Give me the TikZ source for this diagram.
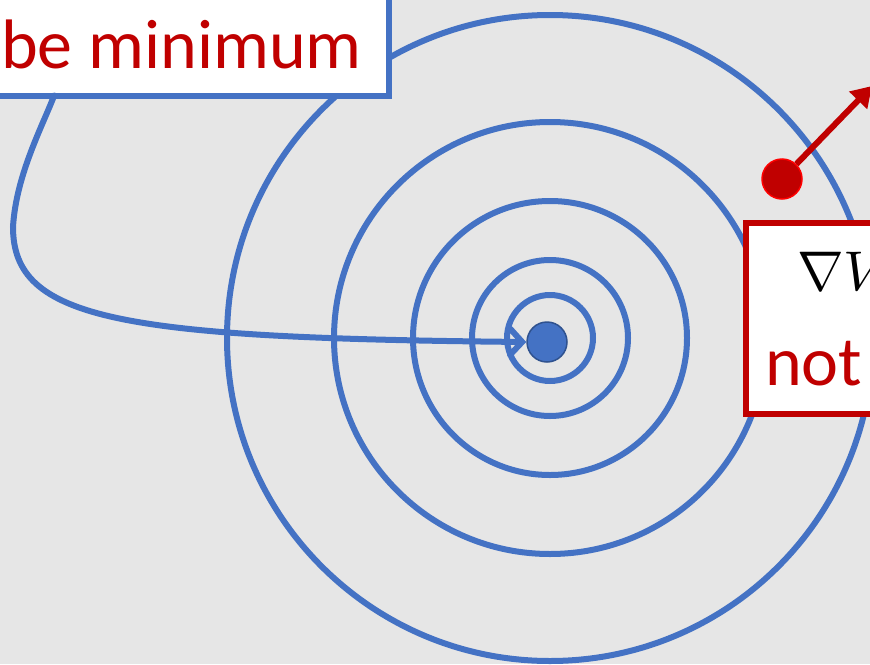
\documentclass[tikz,border=0pt]{standalone}
\usepackage{fontspec}
\usepackage{unicode-math}
\setmainfont{Carlito}
\setmathfont{Latin Modern Math}
\usetikzlibrary{arrows.meta}
\definecolor{ringblue}{HTML}{4472C4}
\definecolor{dotedge}{HTML}{2F528F}
\definecolor{darkred}{HTML}{C00000}
\definecolor{slidegray}{HTML}{E6E6E6}
\tikzset{
    % level sets and the way down
    ring/.style={draw=ringblue, line width=6pt},
    minarr/.style={ringblue, line width=6pt, line cap=round, -{Straight Barb[length=12pt,width=26pt,line cap=round]}},
    gradarr/.style={darkred, line width=6pt, -{Triangle[length=20pt,width=24pt]}},
    bigtxt/.style={font=\fontsize{70}{84}\selectfont},
    % boxes
    wbox/.style={fill=white, line width=6pt, outer sep=0pt},
}
\begin{document}
\begin{tikzpicture}[x=1pt,y=-1pt]
    \useasboundingbox (0,0) rectangle (870,664);
    \clip (0,0) rectangle (870,664);
    \fill[slidegray] (0,0) rectangle (870,664);

    % RINGS
    \foreach \r in {43,78,137,216,323}
        \draw[ring] (550,338) circle[radius=\r pt];

    \node (minbox) at (389,68) [anchor=base east, draw=ringblue, wbox, inner sep=27pt, bigtxt, text=darkred] {be minimum};
    \node (mindot) at (547,342) [circle, minimum size=40pt, inner sep=0pt, fill=ringblue, draw=dotedge, line width=1.5pt] {};

    % ARROWS
    \draw[minarr] ([xshift=80pt]minbox.south west) .. controls (43,125) and (16,175) .. (13,227)
        .. controls (13,320) and (120,338) .. (mindot.west);

    \node (gdot) at (782,179) [circle, minimum size=40pt, inner sep=0pt, fill=darkred, draw=red, line width=1.5pt] {};
    \coordinate (gtip) at (872,86);
    \draw[gradarr] (gdot) -- (gtip);

    \node (gradbox) at (746,223) [anchor=north west, draw=darkred, wbox, minimum width=200pt, minimum height=191pt] {};
    \node (gradtxt) at (797,290) [anchor=base west, inner sep=0pt, font=\fontsize{56}{60}\selectfont] {$\nabla V$};
    \node (nottxt) at (765,385) [anchor=base west, inner sep=0pt, bigtxt, text=darkred] {not};
\end{tikzpicture}
\end{document}
